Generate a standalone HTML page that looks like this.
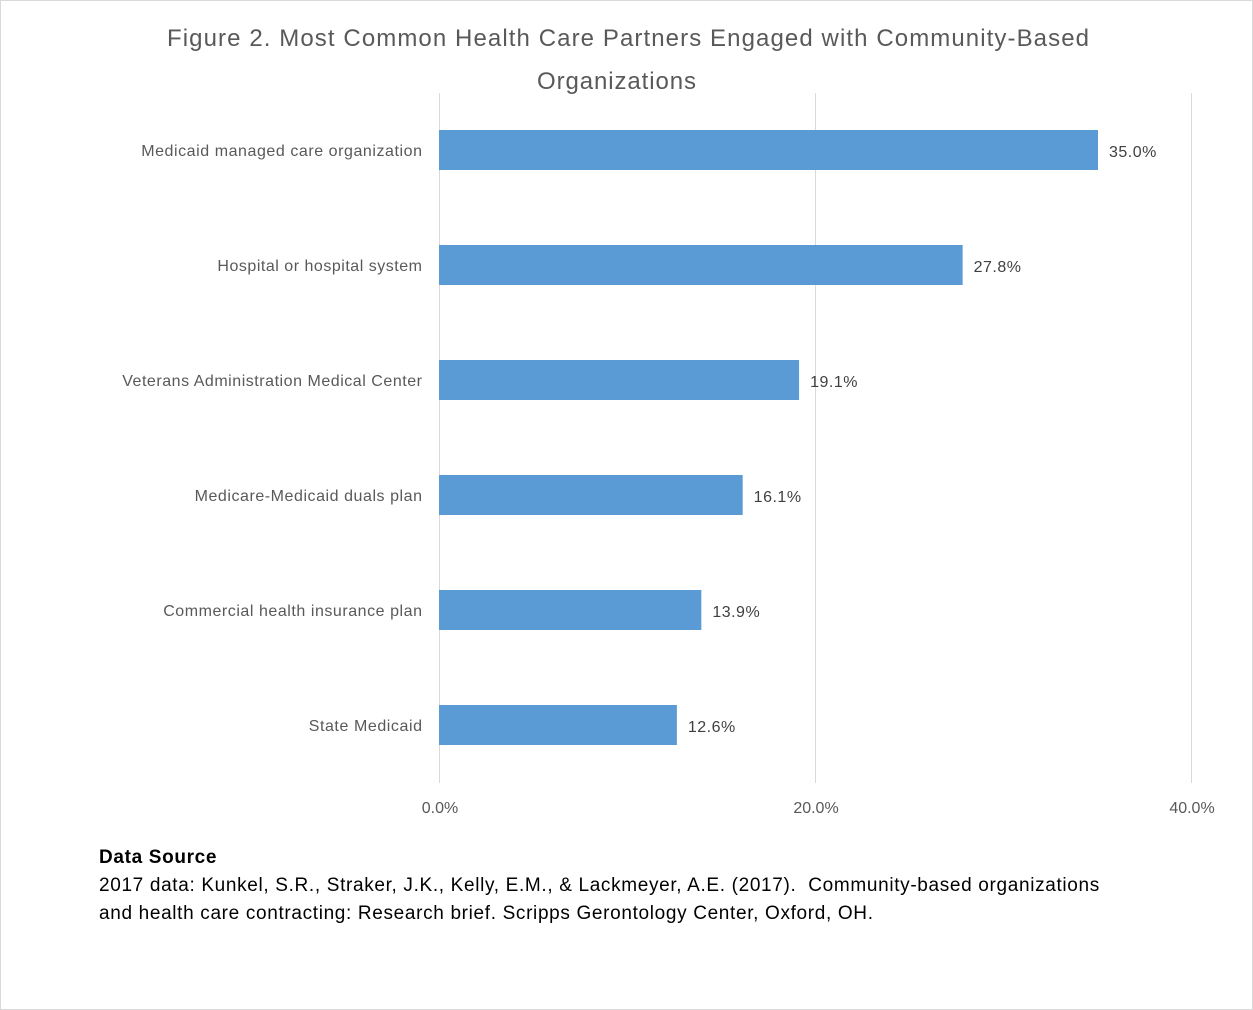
<!DOCTYPE html>
<html><head><meta charset="utf-8"><style>
body{margin:0;background:#fff;}
#c{position:relative;width:1253px;height:1010px;box-sizing:border-box;border:1px solid #d9d9d9;font-family:"Liberation Sans",sans-serif;}
.fn{position:absolute;left:98px;font-size:19px;color:#000;line-height:28px;letter-spacing:0.66px;}
</style></head><body>
<div id="c">
<svg id="s" width="1253" height="840" style="position:absolute;left:0;top:0">
<text x="166" y="45" textLength="922" lengthAdjust="spacing" font-size="24" fill="#595959" font-family="Liberation Sans, sans-serif">Figure 2. Most Common Health Care Partners Engaged with Community-Based</text>
<text x="536" y="88" textLength="159" lengthAdjust="spacing" font-size="24" fill="#595959" font-family="Liberation Sans, sans-serif">Organizations</text>
</svg>
<div class="fn" style="top:843px;font-weight:bold">Data Source</div>
<div class="fn" style="top:871px">2017 data: Kunkel, S.R., Straker, J.K., Kelly, E.M., &amp; Lackmeyer, A.E. (2017). &nbsp;Community-based organizations<br>and health care contracting: Research brief. Scripps Gerontology Center, Oxford, OH.</div>
</div>
<script>
const categories=["Medicaid managed care organization","Hospital or hospital system","Veterans Administration Medical Center","Medicare-Medicaid duals plan","Commercial health insurance plan","State Medicaid"];
const values=[35.0,27.8,19.1,16.1,13.9,12.6];
const ticks=[0,20,40];
const tickLabels=["0.0%","20.0%","40.0%"];
const s=document.getElementById('s');
const NS='http://www.w3.org/2000/svg';
const x=v=>439+v*18.8;
const yc=i=>149+i*115;
function mk(t,a,txt){const e=document.createElementNS(NS,t);for(const k in a)e.setAttribute(k,a[k]);if(txt!=null)e.textContent=txt;s.appendChild(e);return e;}
ticks.forEach((t,i)=>{
 const g=mk('line',{x1:x(t)-0.5,x2:x(t)-0.5,y1:92,y2:782,stroke:'#d9d9d9','stroke-width':1});
 
 
 const l=mk('text',{x:x(t),y:812,'text-anchor':'middle','font-size':16,fill:'#595959','font-family':'Liberation Sans, sans-serif'},tickLabels[i]);
 
 
});
categories.forEach((c,i)=>{
 const b=mk('rect',{x:x(0)-1,y:yc(i)-20,width:x(values[i])-x(0)+1,height:40,fill:'#5b9bd5'});
 
 
 const l=mk('text',{x:421,y:yc(i)+6,'text-anchor':'end','font-size':16,fill:'#595959','font-family':'Liberation Sans, sans-serif'},c);
 
 
 const w=l.getComputedTextLength();
 l.setAttribute('textLength',(w*1.07).toFixed(1));
 l.setAttribute('lengthAdjust','spacing');
 const v=mk('text',{x:x(values[i])+11,y:yc(i)+7,'font-size':16,fill:'#404040','font-family':'Liberation Sans, sans-serif','letter-spacing':'0.5'},values[i].toFixed(1)+'%');
 
 
});
</script>
</body></html>
